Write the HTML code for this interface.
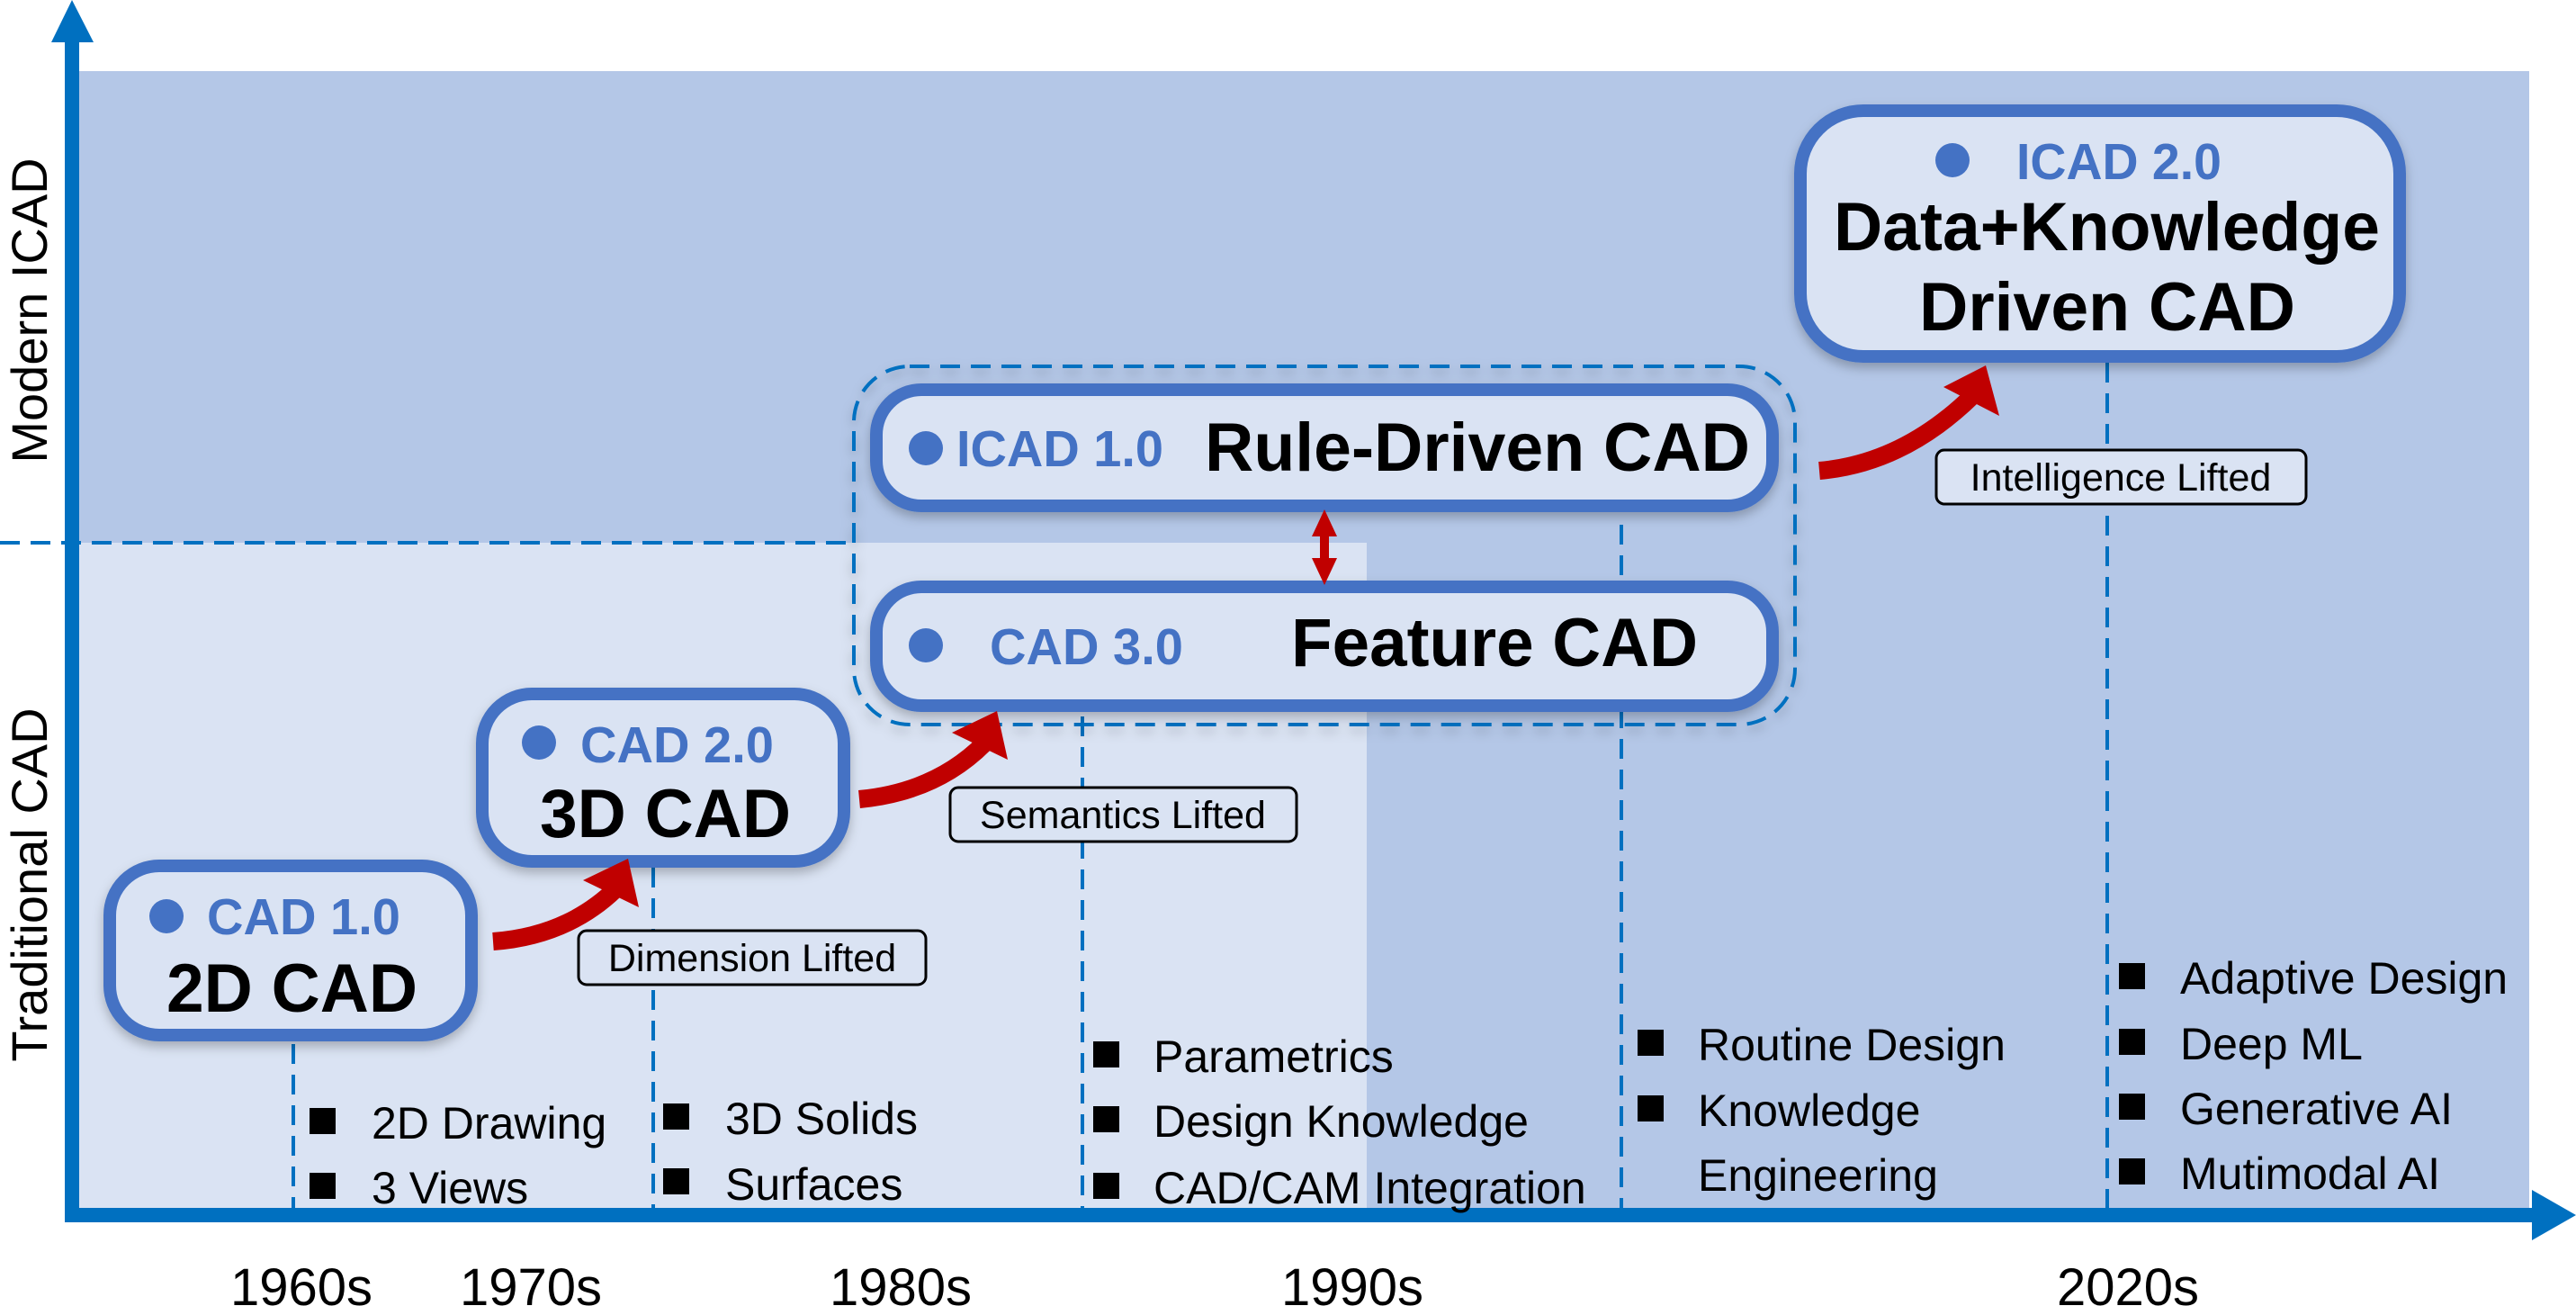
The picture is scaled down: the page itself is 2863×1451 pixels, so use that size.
<!DOCTYPE html>
<html><head><meta charset="utf-8"><style>html,body{margin:0;padding:0;background:#fff}svg{display:block}</style></head>
<body>
<svg width="2863" height="1451" viewBox="0 0 2863 1451" xmlns="http://www.w3.org/2000/svg" font-family="Liberation Sans, Arial, sans-serif">
<defs>
<filter id="sh" x="-10%" y="-10%" width="120%" height="130%"><feDropShadow dx="0" dy="6" stdDeviation="6" flood-color="#000" flood-opacity="0.25"/></filter>
</defs>
<rect width="2863" height="1451" fill="#fff"/>
<rect x="88" y="79" width="2723" height="1265" fill="#B4C7E7"/>
<rect x="88" y="603" width="1431" height="741" fill="#DAE3F3"/>
<line x1="0" y1="603" x2="949" y2="603" stroke="#0070C0" stroke-width="4" stroke-dasharray="22,12"/>
<g stroke="#0070C0" stroke-width="4" stroke-dasharray="22,12">
<line x1="326" y1="1160" x2="326" y2="1344"/>
<line x1="726" y1="964" x2="726" y2="1344"/>
<line x1="1203" y1="796" x2="1203" y2="1344"/>
<line x1="1802" y1="583" x2="1802" y2="1344"/>
<line x1="2342" y1="403" x2="2342" y2="1344"/>
</g>
<rect x="949" y="407" width="1046" height="398" rx="62" fill="none" stroke="#0070C0" stroke-width="4" stroke-dasharray="22,12" filter="url(#sh)"/>
<g fill="#DAE3F3" stroke="#4472C4" stroke-width="14" filter="url(#sh)">
<rect x="122" y="962" width="402" height="188" rx="55"/>
<rect x="536" y="771" width="402" height="186" rx="55"/>
<rect x="974" y="433" width="996" height="129" rx="50"/>
<rect x="974" y="652" width="996" height="132" rx="50"/>
<rect x="2001" y="123" width="666" height="273" rx="70"/>
</g>
<rect x="72" y="40" width="16" height="1318" fill="#0070C0"/>
<polygon points="80,0 57,47 104,47" fill="#0070C0"/>
<rect x="72" y="1342" width="2750" height="16" fill="#0070C0"/>
<polygon points="2863,1350 2814,1322 2814,1378" fill="#0070C0"/>
<text transform="translate(52,345) rotate(-90)" text-anchor="middle" font-size="56" fill="#000">Modern ICAD</text>
<text transform="translate(52,983) rotate(-90)" text-anchor="middle" font-size="56" fill="#000">Traditional CAD</text>
<g fill="#4472C4">
<circle cx="185" cy="1018" r="19"/>
<circle cx="599" cy="825" r="19"/>
<circle cx="1029" cy="498" r="19"/>
<circle cx="1029" cy="717" r="19"/>
<circle cx="2170" cy="178" r="19"/>
</g>
<g font-weight="bold" fill="#4472C4" font-size="57">
<text x="230" y="1038" textLength="215" lengthAdjust="spacingAndGlyphs">CAD 1.0</text>
<text x="645" y="847" textLength="215" lengthAdjust="spacingAndGlyphs">CAD 2.0</text>
<text x="1063" y="518" textLength="230" lengthAdjust="spacingAndGlyphs">ICAD 1.0</text>
<text x="1100" y="738" textLength="215" lengthAdjust="spacingAndGlyphs">CAD 3.0</text>
<text x="2241" y="199" textLength="228" lengthAdjust="spacingAndGlyphs">ICAD 2.0</text>
</g>
<g font-weight="bold" fill="#000" font-size="76">
<text x="185" y="1124" textLength="279" lengthAdjust="spacingAndGlyphs">2D CAD</text>
<text x="600" y="930" textLength="279" lengthAdjust="spacingAndGlyphs">3D CAD</text>
<text x="1339" y="523" textLength="606" lengthAdjust="spacingAndGlyphs">Rule-Driven CAD</text>
<text x="1435" y="740" textLength="452" lengthAdjust="spacingAndGlyphs">Feature CAD</text>
<text x="2038" y="278" textLength="607" lengthAdjust="spacingAndGlyphs">Data+Knowledge</text>
<text x="2133" y="367" textLength="418" lengthAdjust="spacingAndGlyphs">Driven CAD</text>
</g>
<g fill="#DAE3F3" stroke="#000" stroke-width="3">
<rect x="643" y="1034" width="386" height="60" rx="9"/>
<rect x="1056" y="875" width="385" height="60" rx="9"/>
<rect x="2152" y="500" width="411" height="60" rx="9"/>
</g>
<g font-size="43" fill="#000" text-anchor="middle">
<text x="836" y="1079">Dimension Lifted</text>
<text x="1248" y="920">Semantics Lifted</text>
<text x="2357" y="545">Intelligence Lifted</text>
</g>
<g fill="none" stroke="#C00000" stroke-width="20">
<path d="M548,1046 Q630,1040 684,988"/>
<path d="M955,888 Q1040,880 1094,826"/>
<path d="M2022,523 Q2115,515 2192,440"/>
</g>
<g fill="#C00000">
<polygon points="698,954 648,978 710,1008"/>
<polygon points="1108,790 1058,814 1120,844"/>
<polygon points="2207,406 2160,430 2222,462"/>
<rect x="1467" y="590" width="10" height="40"/>
<polygon points="1472,566 1458,596 1486,596"/>
<polygon points="1472,650 1458,620 1486,620"/>
</g>
<g fill="#000">
<rect x="344" y="1231" width="29" height="29"/><rect x="344" y="1303" width="29" height="29"/>
<rect x="737" y="1226" width="29" height="29"/><rect x="737" y="1298" width="29" height="29"/>
<rect x="1215" y="1157" width="29" height="29"/><rect x="1215" y="1229" width="29" height="29"/><rect x="1215" y="1303" width="29" height="29"/>
<rect x="1820" y="1144" width="29" height="29"/><rect x="1820" y="1217" width="29" height="29"/>
<rect x="2355" y="1070" width="29" height="29"/><rect x="2355" y="1143" width="29" height="29"/><rect x="2355" y="1215" width="29" height="29"/><rect x="2355" y="1287" width="29" height="29"/>
</g>
<g font-size="50" fill="#000">
<text x="413" y="1265">2D Drawing</text>
<text x="413" y="1337">3 Views</text>
<text x="806" y="1260">3D Solids</text>
<text x="806" y="1333">Surfaces</text>
<text x="1282" y="1191">Parametrics</text>
<text x="1282" y="1263">Design Knowledge</text>
<text x="1282" y="1337">CAD/CAM Integration</text>
<text x="1887" y="1178">Routine Design</text>
<text x="1887" y="1251">Knowledge</text>
<text x="1887" y="1323">Engineering</text>
<text x="2423" y="1104">Adaptive Design</text>
<text x="2423" y="1177">Deep ML</text>
<text x="2423" y="1249">Generative AI</text>
<text x="2423" y="1321">Mutimodal AI</text>
</g>
<g font-size="58" fill="#000">
<text x="256" y="1450">1960s</text>
<text x="511" y="1450">1970s</text>
<text x="922" y="1450">1980s</text>
<text x="1424" y="1450">1990s</text>
<text x="2286" y="1450">2020s</text>
</g>
</svg>
</body></html>
